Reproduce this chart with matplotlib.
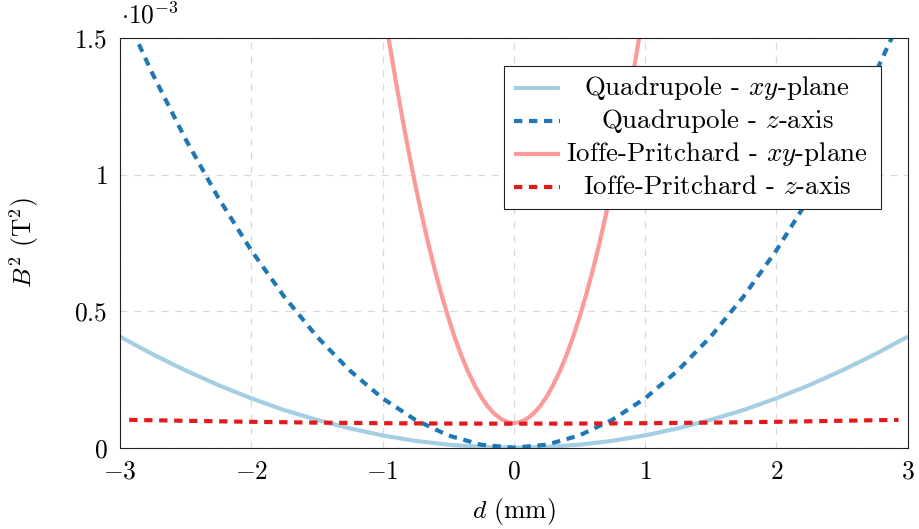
import matplotlib
matplotlib.use("Agg")
import matplotlib.pyplot as plt
import matplotlib.patches as patches

# B^2 values are in units of 1e-3 T^2, d in mm
d_quad = [-3.0, -2.75, -2.5, -2.25, -2.0, -1.75, -1.5, -1.25, -1.0, -0.75, -0.5, -0.25, 0.0,
          0.25, 0.5, 0.75, 1.0, 1.25, 1.5, 1.75, 2.0, 2.25, 2.5, 2.75, 3.0]
b2_quad_xy = [0.407, 0.342, 0.283, 0.229, 0.181, 0.138, 0.102, 0.071, 0.045, 0.025, 0.011, 0.003, 0.0,
              0.003, 0.011, 0.025, 0.045, 0.071, 0.102, 0.138, 0.181, 0.229, 0.283, 0.342, 0.407]
b2_quad_z = [1.628, 1.368, 1.130, 0.915, 0.723, 0.554, 0.407, 0.283, 0.181, 0.102, 0.045, 0.011, 0.0,
             0.011, 0.045, 0.102, 0.181, 0.283, 0.407, 0.554, 0.723, 0.915, 1.130, 1.368, 1.628]

d_ioffe_xy = [-1.0, -0.95, -0.9, -0.85, -0.8, -0.75, -0.7, -0.65, -0.6, -0.55, -0.5, -0.45, -0.4,
              -0.35, -0.3, -0.25, -0.2, -0.15, -0.1, -0.05, 0.0,
              0.05, 0.1, 0.15, 0.2, 0.25, 0.3, 0.35, 0.4, 0.45, 0.5, 0.55, 0.6, 0.65, 0.7,
              0.75, 0.8, 0.85, 0.9, 0.95, 1.0]
b2_ioffe_xy = [1.640, 1.489, 1.346, 1.210, 1.082, 0.962, 0.850, 0.745, 0.648, 0.559, 0.478, 0.404, 0.338,
               0.280, 0.230, 0.187, 0.152, 0.125, 0.106, 0.094, 0.090,
               0.094, 0.106, 0.125, 0.152, 0.187, 0.230, 0.280, 0.338, 0.404, 0.478, 0.559, 0.648, 0.745, 0.850,
               0.962, 1.082, 1.210, 1.346, 1.489, 1.640]

d_ioffe_z = [-2.93, -2.5, -2.0, -1.5, -1.0, -0.5, 0.0, 0.5, 1.0, 1.5, 2.0, 2.5, 2.93]
b2_ioffe_z = [0.102, 0.0986, 0.0948, 0.0918, 0.0897, 0.0884, 0.088,
              0.0884, 0.0897, 0.0918, 0.0948, 0.0986, 0.102]

labels = ["Quadrupole - $xy$-plane", "Quadrupole - $z$-axis",
          "Ioffe-Pritchard - $xy$-plane", "Ioffe-Pritchard - $z$-axis"]
colors = ["#a6cee3", "#1f78b4", "#fb9a99", "#e31a1c"]

x_ticks = [-3, -2, -1, 0, 1, 2, 3]
x_tick_labels = ["$-3$", "$-2$", "$-1$", "$0$", "$1$", "$2$", "$3$"]
y_ticks = [0, 0.5, 1, 1.5]
y_tick_labels = ["$0$", "$0.5$", "$1$", "$1.5$"]

plt.rcParams["font.family"] = "cmr10"
plt.rcParams["mathtext.fontset"] = "cm"
plt.rcParams["axes.formatter.use_mathtext"] = True
plt.rcParams["axes.unicode_minus"] = False

fs = 18.4
fs_leg = 19.4
lw = 3.0
dash = (0, (2.0, 1.6))

fig = plt.figure(figsize=(9.2, 5.29), dpi=100)
ax = fig.add_axes([0.1304, 0.1537, 0.8562, 0.7739])

styles = ["-", dash, "-", dash]
series = [(d_quad, b2_quad_xy), (d_quad, b2_quad_z), (d_ioffe_xy, b2_ioffe_xy), (d_ioffe_z, b2_ioffe_z)]
for (x, y), c, ls in zip(series, colors, styles):
    ax.plot(x, y, color=c, lw=lw, linestyle=ls, solid_capstyle="butt", dash_capstyle="butt")

ax.set_xlim(-3, 3)
ax.set_ylim(0, 1.5)
ax.set_xticks(x_ticks)
ax.set_xticklabels(x_tick_labels, fontsize=fs)
ax.set_yticks(y_ticks)
ax.set_yticklabels(y_tick_labels, fontsize=fs)
ax.tick_params(length=0, pad=9)

ax.grid(True, color="#d9d9d9", lw=0.9, linestyle=(0, (5.5, 5.5)))
ax.set_axisbelow(True)
for s in ax.spines.values():
    s.set_linewidth(0.8)
    s.set_color("#222222")

ax.set_xlabel("$d$ (mm)", fontsize=fs)
ax.xaxis.set_label_coords(0.5, -0.118)
ax.set_ylabel("$B^2$ (T$^2$)", fontsize=fs)
ax.yaxis.set_label_coords(-0.1, 0.5)

ax.annotate(r"$\cdot 10^{-3}$", xy=(0, 1), xycoords="axes fraction", xytext=(1, 7),
            textcoords="offset points", ha="left", va="bottom", fontsize=fs)

# Legend built by hand so the entries are centred like pgfplots
ax.add_patch(patches.Rectangle((0.4875, 0.583), 0.4785, 0.349, transform=ax.transAxes,
                               facecolor="white", edgecolor="#222222", lw=0.8, zorder=5))
row_y = [0.879, 0.798, 0.717, 0.6375]
for yy, lab, c, ls in zip(row_y, labels, colors, styles):
    ax.plot([0.500, 0.5586], [yy, yy], transform=ax.transAxes, color=c, lw=lw, linestyle=ls,
            solid_capstyle="butt", dash_capstyle="butt", clip_on=False, zorder=6)
    ax.text(0.758, yy - 0.0178, lab, transform=ax.transAxes, ha="center", va="baseline",
            fontsize=fs_leg, zorder=6)

fig.savefig("out.png", dpi=100)
